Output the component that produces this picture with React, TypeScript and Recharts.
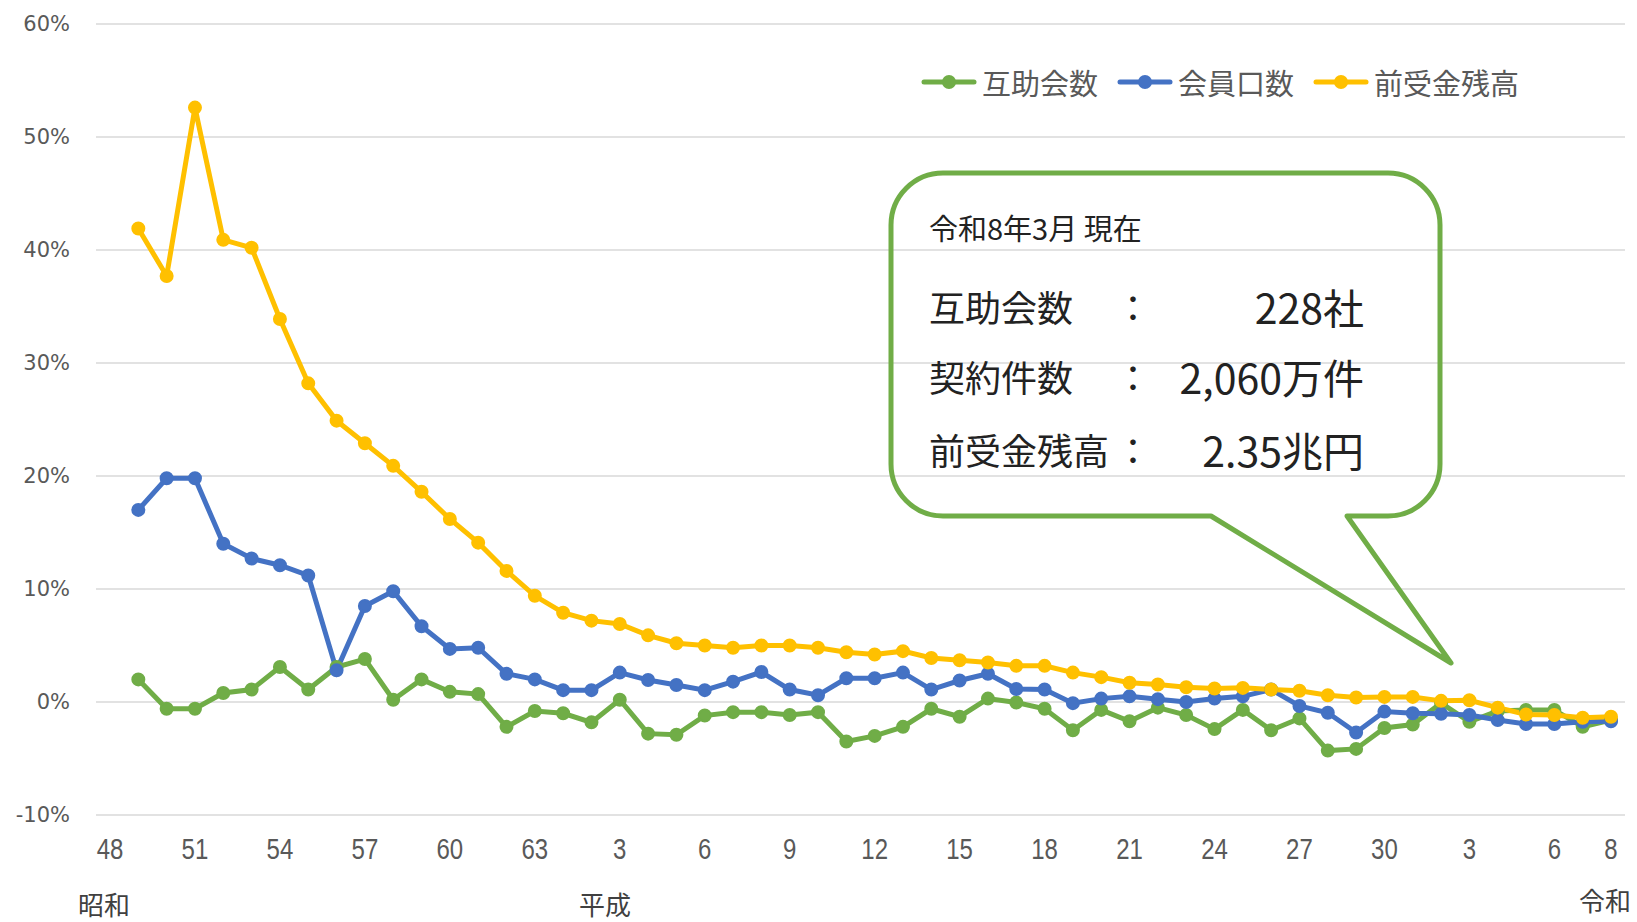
import { CartesianGrid, Customized, Legend, Line, LineChart, XAxis, YAxis } from "recharts";

// fiscal years 昭和48 .. 令和8
const years = [
  1973, 1974, 1975, 1976, 1977, 1978, 1979, 1980, 1981, 1982, 1983, 1984, 1985, 1986, 1987, 1988,
  1989, 1990, 1991, 1992, 1993, 1994, 1995, 1996, 1997, 1998, 1999, 2000, 2001, 2002, 2003, 2004,
  2005, 2006, 2007, 2008, 2009, 2010, 2011, 2012, 2013, 2014, 2015, 2016, 2017, 2018,
  2019, 2020, 2021, 2022, 2023, 2024, 2025, 2026,
];

// 互助会数 (%)
const gojokaiCount = [
  null, 2.0, -0.6, -0.6, 0.8, 1.1, 3.1, 1.1, 3.1, 3.8, 0.2, 2.0, 0.9, 0.7, -2.2, -0.8,
  -1.0, -1.8, 0.2, -2.8, -2.9, -1.2, -0.9, -0.9, -1.15, -0.9, -3.5, -3.0, -2.2, -0.6, -1.3, 0.3,
  -0.05, -0.6, -2.5, -0.7, -1.7, -0.5, -1.15, -2.4, -0.7, -2.5, -1.45, -4.3, -4.15, -2.3,
  -2.0, -0.1, -1.75, -0.8, -0.7, -0.7, -2.2, -1.6,
];

// 会員口数 (%)
const memberCount = [
  null, 17.0, 19.8, 19.8, 14.0, 12.7, 12.1, 11.2, 2.8, 8.5, 9.8, 6.7, 4.7, 4.8, 2.5, 2.0,
  1.05, 1.05, 2.6, 1.95, 1.5, 1.05, 1.8, 2.65, 1.1, 0.6, 2.1, 2.1, 2.6, 1.1, 1.9, 2.5,
  1.15, 1.1, -0.1, 0.3, 0.5, 0.25, 0.0, 0.3, 0.5, 1.1, -0.35, -0.95, -2.7, -0.85,
  -1.0, -1.05, -1.15, -1.6, -1.95, -1.95, -1.75, -1.7,
];

// 前受金残高 (%)
const advanceBalance = [
  null, 41.9, 37.7, 52.6, 40.9, 40.2, 33.9, 28.2, 24.9, 22.9, 20.9, 18.6, 16.2, 14.1, 11.6, 9.4,
  7.9, 7.2, 6.9, 5.9, 5.2, 5.0, 4.8, 5.0, 5.0, 4.8, 4.4, 4.2, 4.5, 3.9, 3.7, 3.5,
  3.2, 3.2, 2.6, 2.2, 1.7, 1.55, 1.3, 1.2, 1.25, 1.1, 1.0, 0.6, 0.4, 0.45,
  0.45, 0.1, 0.15, -0.5, -1.1, -1.15, -1.4, -1.3,
];

const shownYears = [
  1973, 1976, 1979, 1982, 1985, 1988, 1991, 1994, 1997, 2000, 2003, 2006, 2009, 2012, 2015, 2018,
  2021, 2024, 2026,
];
const shownLabels = [
  "48", "51", "54", "57", "60", "63", "3", "6", "9", "12", "15", "18", "21", "24", "27", "30",
  "3", "6", "8",
];

const yTicks = [-10, 0, 10, 20, 30, 40, 50, 60];

const data = years.map((year, i) => ({
  year,
  gojokai: gojokaiCount[i],
  member: memberCount[i],
  advance: advanceBalance[i],
}));

const GREEN = "#70AD47";
const BLUE = "#4472C4";
const YELLOW = "#FFC000";
const TEXT = "#595959";
const JP = "'Noto Sans CJK JP', 'Noto Sans', sans-serif";

function XTick({ x, y, payload }: any) {
  const idx = shownYears.indexOf(payload.value);
  if (idx < 0) return null;
  return (
    <text
      transform={`translate(${x}, ${y + 32}) scale(0.8, 1)`}
      textAnchor="middle"
      dominantBaseline="central"
      fill={TEXT}
      fontSize={30}
      fontFamily="'Liberation Sans', sans-serif"
    >
      {shownLabels[idx]}
    </text>
  );
}

function LegendContent({ payload }: any) {
  return (
    <div style={{ display: "flex", alignItems: "center", fontFamily: JP }}>
      {(payload || []).map((p: any) => (
        <div key={p.value} style={{ display: "flex", alignItems: "center", marginRight: 19 }}>
          <svg width={56} height={20}>
            <line x1={3} y1={10} x2={53} y2={10} stroke={p.color} strokeWidth={5} strokeLinecap="round" />
            <circle cx={28} cy={10} r={7} fill={p.color} />
          </svg>
          <span style={{ color: TEXT, fontSize: 29, marginLeft: 5, lineHeight: "40px" }}>{p.value}</span>
        </div>
      ))}
    </div>
  );
}

function Callout() {
  const L = 891;
  const T = 173;
  const R = 1440;
  const B = 516;
  const r = 52;
  const d = `M ${L + r} ${T} H ${R - r} A ${r} ${r} 0 0 1 ${R} ${T + r} V ${B - r} A ${r} ${r} 0 0 1 ${R - r} ${B} H 1347 L 1451 663 L 1211 ${B} H ${L + r} A ${r} ${r} 0 0 1 ${L} ${B - r} V ${T + r} A ${r} ${r} 0 0 1 ${L + r} ${T} Z`;
  const rows = [
    { label: "互助会数", value: "228社", y: 306 },
    { label: "契約件数", value: "2,060万件", y: 376 },
    { label: "前受金残高", value: "2.35兆円", y: 449 },
  ];
  return (
    <g fontFamily={JP}>
      <path d={d} fill="none" stroke={GREEN} strokeWidth={5} strokeLinejoin="round" />
      <text x={929} y={227} fontSize={29} fill="#222" dominantBaseline="central">
        令和8年3月 現在
      </text>
      {rows.map((row) => (
        <g key={row.label}>
          <text x={929} y={row.y} fontSize={36} fill="#222" dominantBaseline="central">
            {row.label}
          </text>
          <text x={1133} y={row.y} fontSize={36} fill="#222" textAnchor="middle" dominantBaseline="central">
            ：
          </text>
          <text x={1364} y={row.y} fontSize={41} fill="#222" textAnchor="end" dominantBaseline="central">
            {row.value}
          </text>
        </g>
      ))}
      <text x={104} y={903} fontSize={26} fill="#404040" textAnchor="middle" dominantBaseline="central">
        昭和
      </text>
      <text x={605} y={903} fontSize={26} fill="#404040" textAnchor="middle" dominantBaseline="central">
        平成
      </text>
      <text x={1605} y={899} fontSize={26} fill="#404040" textAnchor="middle" dominantBaseline="central">
        令和
      </text>
    </g>
  );
}

export default function App() {
  return (
    <div style={{ position: "absolute", left: 0, top: 0, width: 1637, height: 922, background: "#fff" }}>
      <LineChart width={1637} height={922} data={data} margin={{ top: 24, right: 12, bottom: 0, left: 0 }}>
        <CartesianGrid vertical={false} stroke="#D9D9D9" strokeWidth={1.5} />
        <XAxis
          dataKey="year"
          type="category"
          interval={0}
          height={107}
          padding={{ left: 14, right: 14 }}
          axisLine={false}
          tickLine={false}
          tickSize={0}
          tick={<XTick />}
        />
        <YAxis
          width={96}
          domain={[-10, 60]}
          ticks={yTicks}
          axisLine={false}
          tickLine={false}
          tickSize={0}
          tickMargin={26}
          tickFormatter={(v) => `${v}%`}
          tick={{ fill: TEXT, fontSize: 21, fontFamily: "'DejaVu Sans', sans-serif" }}
        />
        <Legend
          verticalAlign="middle"
          align="center"
          layout="horizontal"
          wrapperStyle={{ top: 62, left: 921, width: "auto" }}
          content={<LegendContent />}
        />
        <Line
          name="互助会数"
          dataKey="gojokai"
          stroke={GREEN}
          strokeWidth={5}
          dot={{ r: 6, fill: GREEN, stroke: GREEN, strokeWidth: 2 }}
          isAnimationActive={false}
        />
        <Line
          name="会員口数"
          dataKey="member"
          stroke={BLUE}
          strokeWidth={5}
          dot={{ r: 6, fill: BLUE, stroke: BLUE, strokeWidth: 2 }}
          isAnimationActive={false}
        />
        <Line
          name="前受金残高"
          dataKey="advance"
          stroke={YELLOW}
          strokeWidth={5}
          dot={{ r: 6, fill: YELLOW, stroke: YELLOW, strokeWidth: 2 }}
          isAnimationActive={false}
        />
        <Customized component={<Callout />} />
      </LineChart>
    </div>
  );
}
